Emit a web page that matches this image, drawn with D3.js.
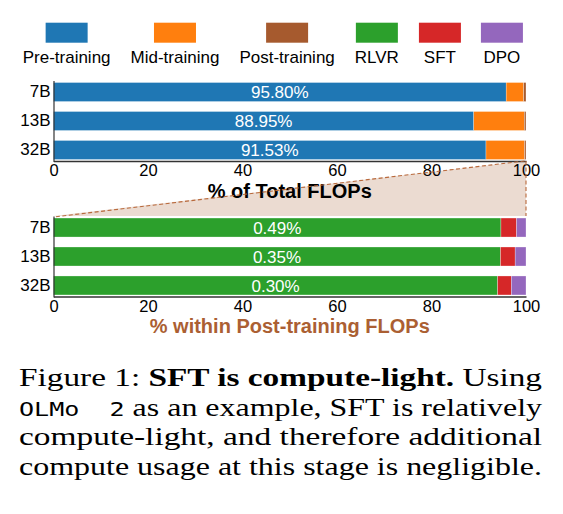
<!DOCTYPE html>
<html>
<head>
  <meta charset="utf-8">
  <title>SFT is compute-light</title>
  <style>
    body { margin: 0; background: #fff; }
  </style>
</head>
<body>
  <script src="https://d3js.org/d3.v7.min.js"></script>
  <script>
    var categories = ['7B', '13B', '32B'];
    var stageKeys = ['Pre-training', 'Mid-training', 'Post-training'];
    var preTraining = [95.80, 88.95, 91.53];
    var midTraining = [3.71, 10.70, 8.17];
    var postTraining = [0.49, 0.35, 0.30];
    var postKeys = ['RLVR', 'SFT', 'DPO'];
    var rlvr = [94.7, 94.6, 94.0];
    var sft = [3.3, 3.1, 2.9];
    var dpo = [2.0, 2.3, 3.1];
    var xTicks = [0, 20, 40, 60, 80, 100];
    var legendKeys = stageKeys.concat(postKeys);

    var sans = '"Liberation Sans", Arial, sans-serif';
    var svgW = 563, svgH = 514;
    var color = d3.scaleOrdinal()
      .domain(legendKeys)
      .range(['#1f77b4', '#ff7f0e', '#a65a2e', '#2ca02c', '#d62728', '#9467bd']);

    var svg = d3.select('body').append('svg')
      .attr('width', svgW).attr('height', svgH)
      .attr('font-family', sans);

    var x = d3.scaleLinear().domain([0, 100]).range([53.5, 526]);
    var yTop = d3.scaleBand().domain(categories).range([80.5, 161.5])
      .paddingInner(0.345).paddingOuter(0.07);
    var yBot = d3.scaleBand().domain(categories).range([216, 297])
      .paddingInner(0.345).paddingOuter(0.07);

    // rows for stacking
    var topRows = categories.map(function(c, i) {
      return { cat: c, 'Pre-training': preTraining[i], 'Mid-training': midTraining[i], 'Post-training': postTraining[i] };
    });
    var botRows = categories.map(function(c, i) {
      return { cat: c, RLVR: rlvr[i], SFT: sft[i], DPO: dpo[i] };
    });

    // zoom-in wedge from post-training slice to the lower chart
    var lastRow = topRows[topRows.length - 1];
    var wedgeX0 = x(100 - lastRow['Post-training']);
    var wedgeTop = yTop.range()[1] - 0.5;
    var wedgeBot = yBot.range()[0];
    svg.append('path')
      .attr('d', 'M' + wedgeX0 + ',' + wedgeTop + 'L' + x(100) + ',' + wedgeTop +
        'L' + x(100) + ',' + wedgeBot + 'L' + x(0) + ',' + wedgeBot + 'Z')
      .attr('fill', '#a65a2e').attr('fill-opacity', 0.22);

    function drawPanel(rows, keys, y, labelVals, labelKey) {
      var series = d3.stack().keys(keys)(rows);
      var g = svg.append('g');
      g.selectAll('g.s').data(series).enter().append('g')
        .attr('fill', function(d) { return color(d.key); })
        .selectAll('rect').data(function(d) { return d; }).enter().append('rect')
        .attr('x', function(d) { return x(d[0]); })
        .attr('width', function(d) { return x(d[1]) - x(d[0]); })
        .attr('y', function(d) { return y(d.data.cat); })
        .attr('height', y.bandwidth())
        .attr('stroke', '#fff').attr('stroke-width', 0.4).attr('stroke-opacity', 0.7);

      // value labels centred in the first segment
      g.selectAll('text.val').data(rows).enter().append('text')
        .attr('x', function(d) { return x(d[labelKey] / 2); })
        .attr('y', function(d) { return y(d.cat) + y.bandwidth() / 2; })
        .attr('dy', '0.36em')
        .attr('text-anchor', 'middle')
        .attr('fill', '#fff')
        .attr('font-size', '17px')
        .text(function(d, i) { return labelVals[i].toFixed(2) + '%'; });

      var xAxis = d3.axisBottom(x).tickValues(xTicks).tickSize(0).tickPadding(3.5);
      var ax = g.append('g').attr('transform', 'translate(0,' + (y.range()[1] - 0.5) + ')').call(xAxis);
      ax.attr('font-family', sans);
      ax.selectAll('text').attr('font-size', '16.5px').attr('fill', '#000');
      ax.select('.domain').attr('stroke', '#333').attr('stroke-width', 1.3);

      var yAxis = d3.axisLeft(y).tickSize(0).tickPadding(3);
      var ay = g.append('g').attr('transform', 'translate(' + x(0) + ',0)').call(yAxis);
      ay.attr('font-family', sans);
      ay.selectAll('text').attr('font-size', '17px').attr('fill', '#000');
      ay.select('.domain').attr('stroke', '#333').attr('stroke-width', 1.2);
      return g;
    }

    drawPanel(topRows, stageKeys, yTop, preTraining, 'Pre-training');
    drawPanel(botRows, postKeys, yBot, postTraining, 'RLVR');

    var midX = (x.range()[0] + x.range()[1]) / 2;
    svg.append('text')
      .attr('x', midX).attr('y', 197.5)
      .attr('text-anchor', 'middle')
      .attr('font-size', '20px').attr('font-weight', 'bold').attr('fill', '#000')
      .text('% of Total FLOPs');
    svg.append('text')
      .attr('x', midX).attr('y', 333)
      .attr('text-anchor', 'middle')
      .attr('font-size', '20px').attr('font-weight', 'bold').attr('fill', '#ab5f33')
      .text('% within Post-training FLOPs');

    // dashed edges of the wedge, drawn over the text
    svg.append('path')
      .attr('d', 'M' + wedgeX0 + ',' + wedgeTop + 'L' + x(0) + ',' + (wedgeBot + 1))
      .attr('fill', 'none').attr('stroke', '#b8693c').attr('stroke-width', 1.1)
      .attr('stroke-dasharray', '4,2.5');
    svg.append('path')
      .attr('d', 'M' + x(100) + ',' + wedgeTop + 'L' + x(100) + ',' + wedgeBot)
      .attr('fill', 'none').attr('stroke', '#b8693c').attr('stroke-width', 1.1)
      .attr('stroke-dasharray', '4,2.5');

    // legend: swatch above label, entries laid out left to right
    var legend = svg.append('g');
    var cursor = 22.7, gap = 20;
    legendKeys.forEach(function(k) {
      var item = legend.append('g');
      var t = item.append('text').attr('font-size', '17px').attr('fill', '#000')
        .attr('text-anchor', 'middle').attr('y', 62.5).text(k);
      var w = Math.max(42, t.node().getComputedTextLength());
      var cx = cursor + w / 2;
      t.attr('x', cx);
      item.append('rect').attr('x', cx - 21).attr('y', 22.7)
        .attr('width', 42).attr('height', 20).attr('fill', color(k));
      cursor += w + gap;
    });

    // caption
    var capLines = [
      [['Figure 1: ', 'n'], ['SFT is compute-light.', 'b'], [' Using', 'n']],
      [['OLMo\u00a0\u00a02', 'm'], [' as an example, SFT is relatively', 'n']],
      [['compute-light, and therefore additional', 'n']],
      [['compute usage at this stage is negligible.', 'n']]
    ];
    var cap = svg.append('g');
    capLines.forEach(function(line, i) {
      var t = cap.append('text')
        .attr('x', 19).attr('y', 386 + i * 29.5)
        .attr('font-size', '25.5px').attr('fill', '#000')
        .attr('font-family', '"Liberation Serif", "DejaVu Serif", serif')
        .attr('textLength', 523).attr('lengthAdjust', 'spacingAndGlyphs');
      line.forEach(function(p) {
        var s = t.append('tspan').text(p[0]);
        if (p[1] === 'b') s.attr('font-weight', 'bold');
        if (p[1] === 'm') s.attr('font-family', '"DejaVu Sans Mono", monospace').attr('font-size', '20px');
      });
    });
  </script>
</body>
</html>
